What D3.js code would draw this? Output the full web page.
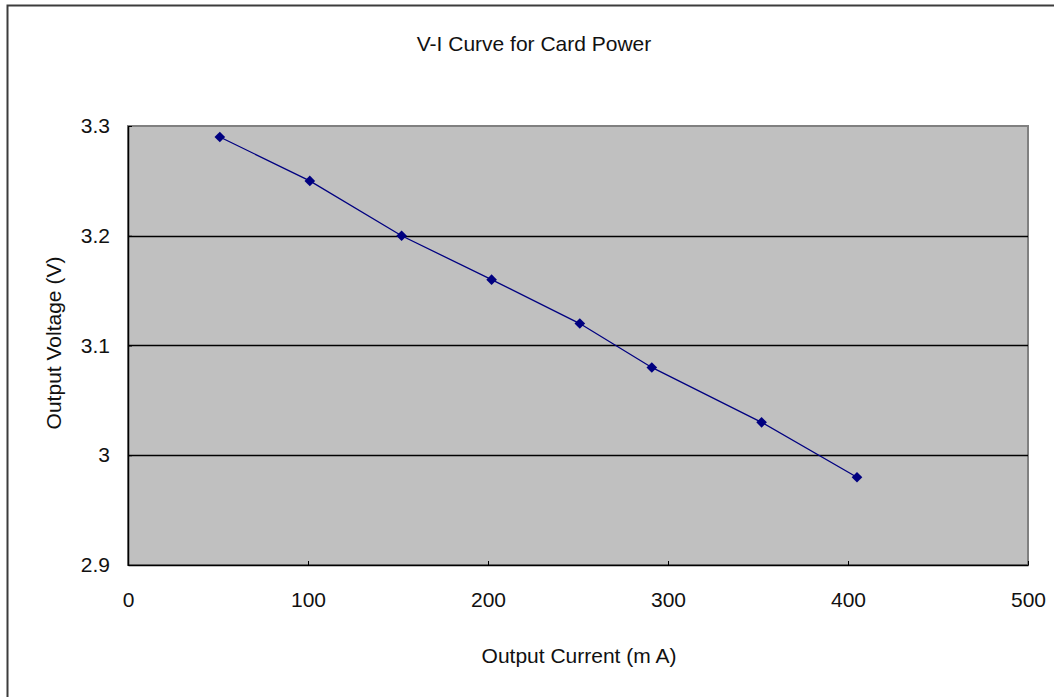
<!DOCTYPE html>
<html>
<head>
<meta charset="utf-8">
<script src="https://cdn.jsdelivr.net/npm/d3@7"></script>
<style>
  body { margin: 0; background: #fff; }
  text { font-family: "Liberation Sans", Arial, sans-serif; fill: #111; }
</style>
</head>
<body>
<svg id="chart" width="1054" height="697"></svg>
<script>
const current = [51, 101, 152, 202, 251, 291, 352, 405];
const voltage = [3.29, 3.25, 3.2, 3.16, 3.12, 3.08, 3.03, 2.98];
const xTicks = [0, 100, 200, 300, 400, 500];
const yTicks = [2.9, 3, 3.1, 3.2, 3.3];
const gridTicks = [3, 3.1, 3.2];

const data = current.map((c, i) => ({ c, v: voltage[i] }));

const svg = d3.select("#chart");
const margin = { top: 126, right: 26, bottom: 132, left: 128 };
const width = 1054;
const height = 697;
const fontSize = "21px";

// outer chart frame (right/bottom edges fall off the page)
svg.append("rect")
  .attr("x", 7.5).attr("y", 5.5)
  .attr("width", 1060).attr("height", 700)
  .attr("fill", "none").attr("stroke", "#3c3c3c").attr("stroke-width", 2);

const x = d3.scaleLinear().domain([0, 500]).range([margin.left, width - margin.right]);
const y = d3.scaleLinear().domain([2.9, 3.3]).range([height - margin.bottom, margin.top]);

// plot area
svg.append("rect")
  .attr("x", x(0)).attr("y", y(3.3))
  .attr("width", x(500) - x(0)).attr("height", y(2.9) - y(3.3))
  .attr("fill", "#c0c0c0").attr("stroke", "#808080").attr("stroke-width", 2);

svg.append("g")
  .selectAll("line")
  .data(gridTicks)
  .join("line")
  .attr("x1", x(0)).attr("x2", x(500))
  .attr("y1", (d) => Math.round(y(d)) + 0.5).attr("y2", (d) => Math.round(y(d)) + 0.5)
  .attr("stroke", "#000").attr("stroke-width", 1.5);

const xAxis = (g) =>
  g.attr("transform", `translate(0,${y(2.9)})`)
    .call(d3.axisBottom(x).tickValues(xTicks).tickSizeInner(-4).tickSizeOuter(0).tickPadding(27).tickFormat(d3.format("d")))
    .call((g) => g.select(".domain").attr("stroke", "#000").attr("stroke-width", 1.5))
    .call((g) => g.selectAll(".tick text").style("font-size", fontSize).attr("font-family", "'Liberation Sans', Arial, sans-serif"));

const yAxis = (g) =>
  g.attr("transform", `translate(${x(0)},0)`)
    .call(d3.axisLeft(y).tickValues(yTicks).tickSizeInner(-4).tickSizeOuter(0).tickPadding(18).tickFormat((d) => String(+d.toFixed(1))))
    .call((g) => g.select(".domain").attr("stroke", "#000").attr("stroke-width", 1.5))
    .call((g) => g.selectAll(".tick text").style("font-size", fontSize).attr("font-family", "'Liberation Sans', Arial, sans-serif"));

svg.append("g").call(xAxis);
svg.append("g").call(yAxis);

// series
const line = d3.line().x((d) => x(d.c)).y((d) => y(d.v));
svg.append("path")
  .datum(data)
  .attr("fill", "none")
  .attr("stroke", "#000080")
  .attr("stroke-width", 1.3)
  .attr("d", line);

svg.append("g")
  .selectAll("path")
  .data(data)
  .join("path")
  .attr("transform", (d) => `translate(${x(d.c)},${y(d.v)})`)
  .attr("d", d3.symbol(d3.symbolDiamond2, 72))
  .attr("fill", "#000080");

// titles
svg.append("text")
  .attr("x", 534).attr("y", 51)
  .attr("text-anchor", "middle")
  .style("font-size", fontSize)
  .text("V-I Curve for Card Power");

svg.append("text")
  .attr("x", 579).attr("y", 663)
  .attr("text-anchor", "middle")
  .style("font-size", fontSize)
  .text("Output  Current  (m A)");

svg.append("text")
  .attr("transform", "translate(61,343) rotate(-90)")
  .attr("text-anchor", "middle")
  .style("font-size", fontSize)
  .text("Output  Voltage  (V)");
</script>
</body>
</html>
